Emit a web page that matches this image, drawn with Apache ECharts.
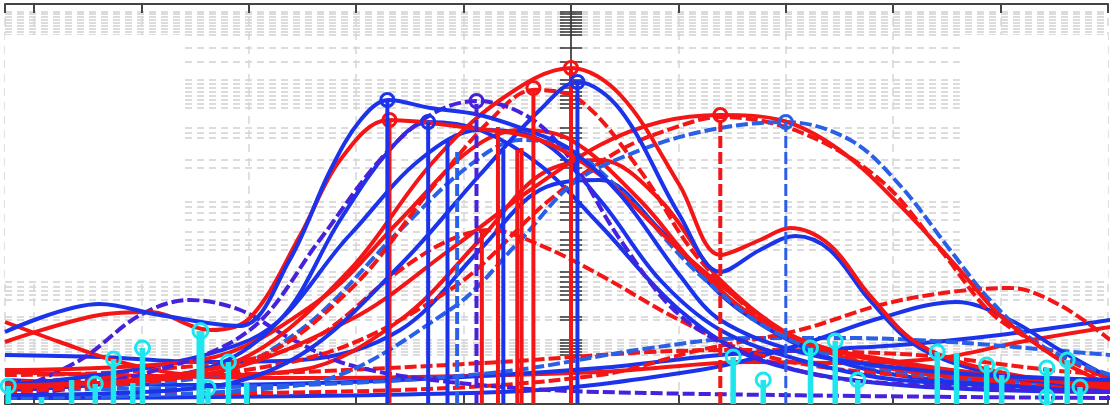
<!DOCTYPE html>
<html style="height: 100%">
<head>
    <meta charset="utf-8">
</head>
<body style="height: 100%; margin: 0">
    <div id="container" style="width: 1112px; height: 407px"></div>
    <script type="text/javascript" src="https://cdn.jsdelivr.net/npm/echarts@6/dist/echarts.min.js"></script>
    <script type="text/javascript">
// curves, [x, y] with x in tick units (centre axis = 0) and y from 0 (bottom) to 400 (top)
var blueBroad = [[-5.27,72],[-4.39,100],[-3.83,89],[-3.08,78],[-2.62,144],[-2.24,234],[-1.96,284],[-1.70,304],[-1.31,296],[-0.85,289],[-0.29,269],[0,254],[0.46,209],[1.01,129],[1.39,84],[2.13,52],[3.06,36],[3.99,28],[5.02,24]];
var redBroad = [[-5.27,62],[-4.39,89],[-3.92,92],[-3.36,74],[-2.99,86],[-2.52,169],[-2.15,244],[-1.70,284],[-0.94,276],[-0.29,264],[0.27,229],[1.01,154],[1.57,104],[2.13,64],[3.06,42],[3.99,28],[5.02,19]];
var redTwin = [[-5.27,16],[-3.92,26],[-2.99,49],[-2.06,134],[-1.31,239],[-0.66,304],[0,336],[0.46,309],[1.01,219],[1.39,149],[1.76,164],[2.04,176],[2.41,159],[2.78,109],[3.25,59],[3.99,32],[5.02,16]];
var blueTwin = [[-5.27,9],[-3.45,16],[-2.52,49],[-1.59,139],[-0.85,229],[-0.29,294],[0.06,322],[0.46,294],[1.01,189],[1.39,132],[1.76,154],[2.09,168],[2.41,154],[2.78,104],[3.25,56],[3.99,29],[5.02,16]];
var redRight = [[-5.27,19],[-3.45,29],[-2.06,84],[-1.13,154],[-0.38,214],[0.27,259],[0.83,282],[1.39,289],[1.95,284],[2.50,254],[3.06,199],[3.62,134],[3.99,89],[4.55,44],[5.02,19]];
var blueRightDash = [[-5.27,6],[-2.52,19],[-1.13,94],[-0.47,164],[0,219],[0.46,246],[1.20,272],[2.00,282],[2.60,264],[3.06,219],[3.53,154],[3.90,104],[4.37,59],[5.02,29]];
var redRightDash = [[-5.27,12],[-2.52,44],[-1.13,114],[-0.20,204],[0.46,254],[1.01,278],[1.39,287],[2.13,272],[2.88,224],[3.44,154],[3.99,84],[5.02,24]];
var purplePeak = [[-5.27,6],[-3.92,32],[-2.99,74],[-2.34,164],[-1.78,244],[-1.31,289],[-0.88,303],[-0.38,286],[0,244],[0.46,164],[1.01,89],[1.67,49],[2.60,24],[5.02,12]];
var blueMid = [[-5.27,14],[-3.45,34],[-2.71,84],[-2.15,184],[-1.69,254],[-1.33,282],[-0.85,274],[-0.29,239],[0.27,179],[1.01,94],[1.76,44],[3.06,19],[5.02,12]];
var redMidDash = [[-5.27,12],[-2.99,44],[-2.06,114],[-1.31,214],[-0.75,284],[-0.35,314],[0.08,304],[0.64,234],[1.20,144],[1.95,74],[3.06,34],[5.02,16]];
var redLowDash = [[-5.27,29],[-3.92,34],[-2.52,59],[-1.59,134],[-1.13,164],[-0.75,174],[-0.29,159],[0.27,129],[1.01,84],[1.76,49],[3.06,29],[5.02,22]];
var blueMidDash = [[-5.27,16],[-3.45,26],[-2.52,74],[-1.59,174],[-0.94,239],[-0.47,264],[0,254],[0.55,204],[1.20,129],[1.95,69],[3.06,32],[5.02,19]];
var blueSteep = [[-5.27,19],[-2.99,64],[-2.06,169],[-1.41,244],[-0.85,274],[-0.29,264],[0.27,204],[0.83,124],[1.39,74],[2.13,44],[3.06,24],[5.02,16]];
var redSteep = [[-5.27,34],[-3.45,44],[-2.34,104],[-1.59,184],[-0.94,254],[-0.47,274],[0,264],[0.64,204],[1.20,134],[1.76,84],[2.60,49],[3.99,29],[5.02,24]];
var purpleLeft = [[-5.27,9],[-4.57,44],[-4.01,89],[-3.55,104],[-3.08,94],[-2.62,66],[-2.06,39],[-1.13,22],[0.27,12],[5.02,6]];
var redFall = [[-5.27,82],[-4.76,62],[-4.20,42],[-3.45,29],[-2.52,34],[-1.59,84],[-0.85,164],[-0.29,229],[0.27,244],[0.83,204],[1.39,124],[2.13,64],[3.06,34],[5.02,19]];
var redBumpDash = [[-5.27,9],[-1.59,14],[0.27,29],[1.20,54],[2.13,74],[2.88,99],[3.53,112],[4.09,116],[4.55,99],[5.02,64]];
var blueBump = [[-5.27,6],[-0.66,12],[1.20,34],[2.13,59],[2.88,86],[3.59,102],[4.09,84],[4.55,54],[5.02,26]];
var blueRise = [[-5.27,24],[-3.45,19],[-1.59,24],[0.27,36],[1.39,49],[2.23,54],[3.06,59],[3.99,69],[5.02,84]];
var redRise = [[-5.27,32],[-2.52,26],[0.27,32],[1.67,42],[2.60,41],[3.44,46],[4.18,62],[5.02,77]];
var blueFlatDash = [[-5.27,14],[-2.52,19],[-0.66,32],[0.74,56],[1.67,66],[2.60,66],[3.53,62],[4.46,54],[5.02,49]];
var redFlatDash = [[-5.27,22],[-2.52,32],[-0.66,42],[0.74,52],[1.67,54],[2.60,52],[3.34,48],[4.46,34],[5.02,29]];
var blueLow = [[-5.27,49],[-4.39,47],[-3.45,42],[-2.52,44],[-1.59,74],[-0.85,154],[-0.29,214],[0.27,224],[0.83,174],[1.57,94],[2.60,39],[3.99,19],[5.02,14]];

// stems: [x, height, has circle]
var blueStems = [[-1.71,304,1],[-1.33,282,1],[-1.15,264,0],[-0.63,254,0],[0.06,322,1]];
var lightBlueStems = [[-1.06,254,0]];
var blueDashStems = [[2.00,282,1]];
var purpleStems = [[-0.88,303,1]];
var redStems = [[-1.69,284,1],[-0.83,174,0],[-0.68,277,0],[-0.50,254,0],[-0.46,256,0],[-0.35,316,1],[0,336,1]];
var redDashStems = [[1.39,289,1]];
var cyanStems = [[-5.24,18,1],[-4.93,7,0],[-4.65,24,0],[-4.43,20,1],[-4.26,45,1],[-4.08,21,0],[-3.99,56,1],[-3.38,16,1],[-3.19,42,1],[-3.02,21,0],
    [1.51,47,1],[1.79,24,1],[2.23,56,1],[2.46,63,1],[2.67,24,1],[3.41,52,1],[3.59,51,0],[3.87,39,1],[4.01,29,1],[4.43,36,1],[4.43,7,1],[4.62,44,1],[4.74,17,1]];
var cyanTallStem = [[-3.45,73,1]];

// tick marks on the centre axis
var centreTicks = [392,390,387,384,381,378,375,372,369,356,342,324,320,316,312,308,304,300,296,276,271,266,244,236,202,197,191,184,172,164,159,154,132,127,122,117,113,109,104,87,84,64,61,58,55,52,49];

var RED = '#f41616', BLUE = '#1b33ea', LBLUE = '#2a60e6', PURPLE = '#4622dc', CYAN = '#1fe6ee';

var curves = [
    [redRise, RED, false], [blueRise, BLUE, false], [redFlatDash, RED, true], [blueFlatDash, LBLUE, true],
    [blueBump, BLUE, false], [redBumpDash, RED, true], [blueLow, BLUE, false], [redFall, RED, false],
    [purpleLeft, PURPLE, true], [redLowDash, RED, true], [blueSteep, BLUE, false], [redSteep, RED, false],
    [blueMidDash, LBLUE, true], [redMidDash, RED, true], [blueMid, BLUE, false], [purplePeak, PURPLE, true],
    [redRightDash, RED, true], [blueRightDash, LBLUE, true], [redRight, RED, false],
    [blueTwin, BLUE, false], [redTwin, RED, false], [redBroad, RED, false], [blueBroad, BLUE, false]
];

function curveSeries(c) {
    return {
        type: 'line',
        data: c[0],
        smooth: 0.35,
        symbol: 'none',
        silent: true,
        z: 2,
        lineStyle: {color: c[1], width: 4, type: c[2] ? [12, 4] : 'solid'}
    };
}

function stemSeries(data, color, width, dashed, z, r) {
    return {
        type: 'custom',
        data: data,
        encode: {x: 0, y: 1},
        silent: true,
        z: z,
        renderItem: function (params, api) {
            var base = api.coord([api.value(0), 0]);
            var top = api.coord([api.value(0), api.value(1)]);
            var children = [{
                type: 'line',
                shape: {x1: base[0], y1: base[1], x2: top[0], y2: top[1]},
                style: {stroke: color, lineWidth: width, lineDash: dashed ? [12, 4] : null}
            }];
            if (api.value(2)) {
                children.push({
                    type: 'circle',
                    shape: {cx: top[0], cy: top[1], r: r},
                    style: {fill: 'none', stroke: color, lineWidth: 3}
                });
            }
            return {type: 'group', children: children};
        }
    };
}

var series = [{
    type: 'line',
    data: [],
    silent: true,
    markArea: {
        silent: true,
        itemStyle: {color: '#ffffff'},
        data: [
            [{coord: [-5.27, 124]}, {coord: [-3.64, 369]}],
            [{coord: [3.62, 124]}, {coord: [5.02, 369]}]
        ]
    }
}];
curves.forEach(function (c) { series.push(curveSeries(c)); });
series.push(stemSeries(redStems, RED, 4, false, 3, 6.5));
series.push(stemSeries(redDashStems, RED, 4, true, 3, 6.5));
series.push(stemSeries(blueStems, BLUE, 4, false, 3, 6.5));
series.push(stemSeries(lightBlueStems, LBLUE, 4, true, 3, 6.5));
series.push(stemSeries(blueDashStems, LBLUE, 3, true, 3, 6.5));
series.push(stemSeries(purpleStems, PURPLE, 4, true, 3, 6.5));
series.push(stemSeries(cyanStems, CYAN, 5.5, false, 4, 7));
series.push(stemSeries(cyanTallStem, CYAN, 8, false, 4, 7.5));

var chart = echarts.init(document.getElementById('container'));
var option = {
    animation: false,
    backgroundColor: '#ffffff',
    grid: {left: 5, right: 4, top: 4, bottom: 3},
    xAxis: [{
        type: 'value',
        position: 'bottom',
        min: -5.27,
        max: 5,
        splitNumber: 10,
        minInterval: 1,
        maxInterval: 1,
        axisLine: {onZero: false, lineStyle: {color: '#444', width: 2}},
        axisTick: {inside: true, length: 9, lineStyle: {color: '#444', width: 2}},
        axisLabel: {show: false},
        splitLine: {show: true, lineStyle: {color: '#d6d6d6', width: 1.5, type: [8, 6]}}
    }, {
        type: 'value',
        position: 'top',
        min: -5.27,
        max: 5,
        splitNumber: 10,
        minInterval: 1,
        maxInterval: 1,
        axisLine: {onZero: false, lineStyle: {color: '#444', width: 2}},
        axisTick: {inside: true, length: 9, lineStyle: {color: '#444', width: 2}},
        axisLabel: {show: false},
        splitLine: {show: false}
    }],
    yAxis: [{
        type: 'value',
        position: 'left',
        min: 0,
        max: 400,
        interval: 10,
        axisLine: {show: true, onZero: true, onZeroAxisIndex: 0, lineStyle: {color: '#555', width: 2}},
        axisTick: {show: true, length: 11, customValues: centreTicks, lineStyle: {color: '#333', width: 1.5}},
        axisLabel: {show: false},
        splitLine: {show: true, lineStyle: {color: '#dcdcdc', width: 2, type: [7, 5]}}
    }, {
        type: 'value',
        position: 'right',
        min: 0,
        max: 400,
        interval: 10,
        axisLine: {show: true, onZero: true, onZeroAxisIndex: 0, lineStyle: {color: '#555', width: 2}},
        axisTick: {show: true, length: 11, customValues: centreTicks, lineStyle: {color: '#333', width: 1.5}},
        axisLabel: {show: false},
        splitLine: {show: false}
    }],
    series: series
};
chart.setOption(option);
</script>
</body>
</html>
